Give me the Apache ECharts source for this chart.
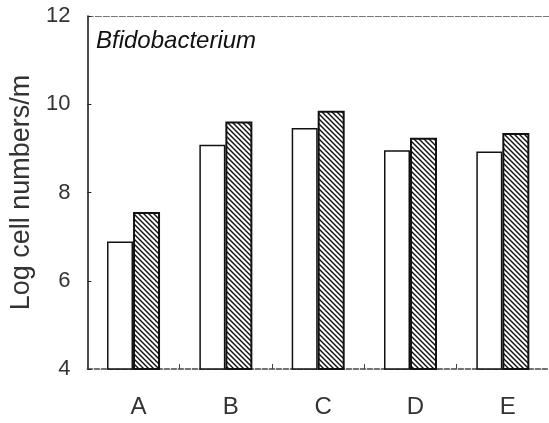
<!DOCTYPE html>
<html>
<head>
<meta charset="utf-8">
<script src="https://cdn.jsdelivr.net/npm/echarts@6/dist/echarts.min.js"></script>
<style>
  html, body { margin: 0; padding: 0; background: #fff; }
  #chart-container { width: 549px; height: 423px; }
</style>
</head>
<body>
<div id="chart-container"></div>
<script>
var categories = ["A", "B", "C", "D", "E"];
var whiteValues = [6.89, 9.08, 9.46, 8.96, 8.93];
var hatchedValues = [7.56, 9.61, 9.85, 9.24, 9.35];
var yTicks = [4, 6, 8, 10, 12];

// diagonal hatch "\\\\"
var makeHatch = function () {
  var c = document.createElement("canvas");
  c.width = 5;
  c.height = 5;
  var ctx = c.getContext("2d");
  ctx.fillStyle = "#fff";
  ctx.fillRect(0, 0, 5, 5);
  ctx.strokeStyle = "#111";
  ctx.lineWidth = 1.4;
  for (var k = -1; k <= 1; k++) {
    ctx.beginPath();
    ctx.moveTo(-1, -1 + 5 * k);
    ctx.lineTo(6, 6 + 5 * k);
    ctx.stroke();
  }
  return c;
};

var dom = document.getElementById("chart-container");
var myChart = echarts.init(dom, null, { renderer: "canvas" });
var font = "'Liberation Sans', Arial, sans-serif";

var option = {
  animation: false,
  backgroundColor: "#fff",
  title: {
    text: "Bfidobacterium",
    left: 91,
    top: 24,
    textStyle: {
      fontFamily: font,
      fontStyle: "italic",
      fontWeight: "normal",
      fontSize: 24,
      color: "#111"
    }
  },
  grid: { left: 82, right: -5, top: 16, bottom: 54 },
  xAxis: [
    {
      type: "category",
      data: categories,
      axisLine: { lineStyle: { color: "#444", width: 1.5, type: [5, 2] } },
      axisTick: { show: true, inside: true, length: 5, lineStyle: { color: "#444" } },
      axisLabel: {
        margin: 26,
        padding: [0, 0, 0, 10],
        fontFamily: font,
        fontSize: 24,
        color: "#333"
      }
    },
    {
      type: "category",
      position: "top",
      data: categories,
      axisLine: { lineStyle: { color: "#777", width: 1, type: [6, 2] } },
      axisTick: { show: false },
      axisLabel: { show: false }
    }
  ],
  yAxis: {
    type: "value",
    min: yTicks[0],
    max: yTicks[yTicks.length - 1],
    interval: 2,
    name: "Log cell numbers/m",
    nameLocation: "middle",
    nameGap: 42,
    nameTextStyle: { fontFamily: font, fontSize: 27, color: "#333" },
    splitLine: { show: false },
    axisLine: { show: true, lineStyle: { color: "#111", width: 1.5 } },
    axisTick: { show: true, inside: true, length: 4, lineStyle: { color: "#222" } },
    axisLabel: {
      margin: 17,
      fontFamily: font,
      fontSize: 22,
      color: "#333"
    }
  },
  series: [
    {
      type: "bar",
      data: whiteValues,
      barWidth: 26,
      barGap: "0%",
      itemStyle: { color: "#fff", borderColor: "#111", borderWidth: 1.5 }
    },
    {
      type: "bar",
      data: hatchedValues,
      barWidth: 27,
      barGap: "0%",
      itemStyle: {
        color: { image: makeHatch(), repeat: "repeat" },
        borderColor: "#111",
        borderWidth: 2
      }
    }
  ]
};

myChart.setOption(option);
window.addEventListener("resize", myChart.resize);
</script>
</body>
</html>
